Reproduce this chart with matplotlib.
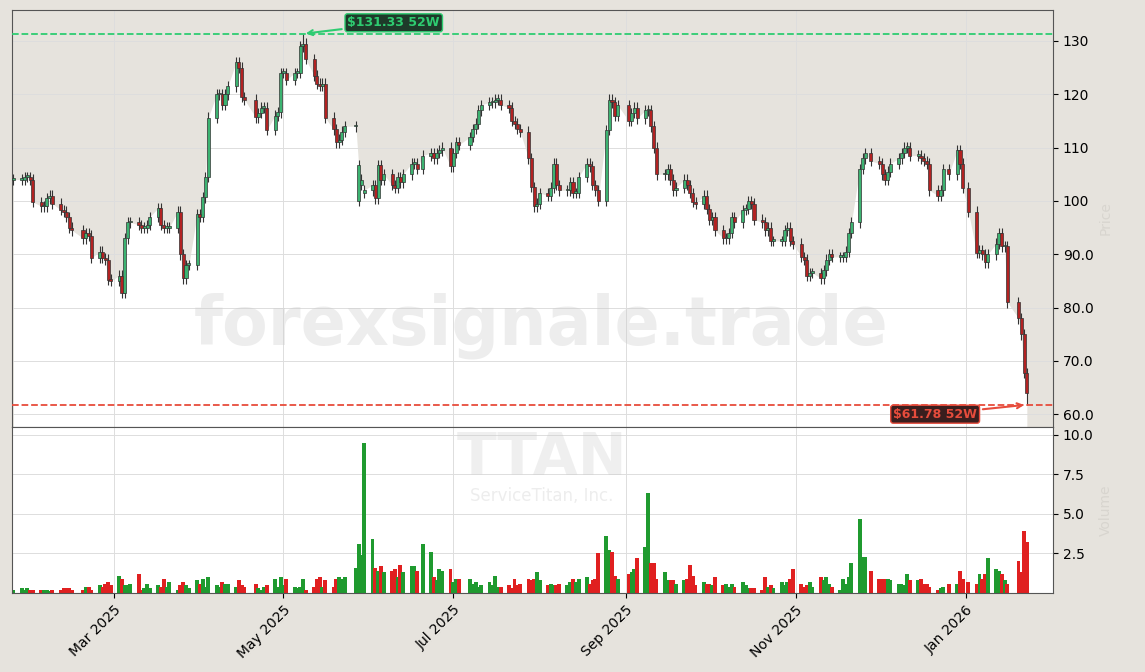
import matplotlib
matplotlib.use("Agg")
import matplotlib.pyplot as plt
import matplotlib.dates as mdates
import numpy as np
import pandas as pd

close_a = [104,104,104.5,104.5,104,99.8,99,99,100.5,101,99.5,98.3,98,97,95,94.5,93,94,93.5,89.3,90.5,89.3,89,85.2,85,86,82.7]
close_b = [93,96,96,95.5,95,95,95.5,97,98.7,95.5,95,95,95,98]
close_c = [90,85.5,88,88,97.5,97,100.7,104.5,115.6,120,120,118,120,121.5,126,125,119.5,119,115.7,116.5,117.5,117.5,113.3,116,116.6,124,124,122.7,124,124,129,129.5,126.6,123.5,122,121.6,122,115.6,113.4,111,111.5,113,114,114]
close_d = [106.7,104,102,103,100.5,106.7,104,105,103,102.5,104.5,103.5,105,107,107,106,108.5,109,108,109,109.5,110,106.5,109,111,110.5,112,113.5,114.5,117,118,118.5,118.5,119,119,118,117.5,115,114.5,113.5,113]
close_e = [108,102.6,99,99.5,101.5,101,102.5,107,103,102,102,103.5,101.5,101.5,104.5,107,106.5,103,102,100,113.3,119,118.5,116,118,115,116.5,117.5,115.5,117,117,114,110,105,105,106,104,102,102.5,104,103]
close_f = [101.5,99.8,99.5,101,98.5,96.5,97,94.5,93,93,94,97,96,98.3,98.5,100,99.5,96.5,96,94.5,95,92.5,92.5,92.5,94.5,95,92.5,92,89.5,89,86,86.5,86.5,85.5,87,89,90,89.5,89.5,89.5,90.5,94,96,106,108,109,107.5,107,105,104]
close_g = [105.5,107,108,109,110,110,108.5,108.5,108,107.5,107,102,101,102,106,105,109.5,107,102.5,98,90.2,90.7,90,88.5,90,92,94,91.5,91.5,81,78,75,67.7,64]

vol_a = [0.2,0.3,0.2,0.3,0.2,0.2,0.2,0.2,0.2,0.1,0.2,0.2,0.3,0.3,0.3,0.2,0.2,0.4,0.4,0.2,0.5,0.4,0.6,0.7,0.5,1.1,0.9]
vol_b = [0.5,0.5,0.6,1.2,0.2,0.3,0.6,0.3,0.5,0.4,0.9,0.4,0.7,0.2]
vol_c = [0.5,0.7,0.5,0.3,0.8,0.6,0.9,0.4,1.0,0.5,0.4,0.7,0.6,0.6,0.4,0.8,0.5,0.4,0.6,0.3,0.2,0.4,0.5,0.9,0.4,1.0,0.5,0.9,0.4,0.3,0.4,0.9,0.2,0.4,0.9,1.0,0.4,0.8,0.4,0.9,1.0,0.9,1.0,1.6]
vol_d = [3.1,2.4,9.5,3.4,1.6,1.4,1.7,1.3,1.4,1.5,1.0,1.8,1.3,1.7,1.7,1.4,3.1,2.6,1.0,0.8,1.5,1.4,1.5,0.7,0.9,0.9,0.9,0.6,0.7,0.4,0.5,0.7,0.5,1.1,0.4,0.4,0.5,0.3,0.9,0.5,0.6]
vol_e = [0.9,0.8,0.9,1.3,0.8,0.5,0.6,0.5,0.5,0.6,0.5,0.7,0.9,0.7,0.9,1.0,0.6,0.8,0.9,2.5,3.6,2.7,2.6,1.1,0.9,1.2,1.3,1.5,2.2,2.9,6.3,1.9,1.9,0.9,1.3,0.8,0.8,0.8,0.6,0.8,0.9]
vol_f = [1.8,1.1,0.5,0.7,0.6,0.6,0.5,1.0,0.5,0.6,0.4,0.6,0.4,0.7,0.5,0.3,0.3,0.3,0.2,1.0,0.4,0.5,0.3,0.7,0.5,0.7,0.9,1.5,0.6,0.4,0.5,0.7,0.4,1.0,0.8,1.0,0.6,0.4,0.2,0.9,0.6,1.0,1.9,4.7,2.3,2.3,1.4,0.9,0.9,0.9]
vol_g = [0.9,0.8,0.6,0.6,0.5,1.2,0.8,0.8,0.9,0.6,0.6,0.4,0.2,0.3,0.4,0.6,0.6,1.4,0.9,0.7,0.6,1.2,0.9,1.2,2.2,1.5,1.4,1.2,0.8,0.6,2.0,1.3,3.9,3.2]

market_holidays = ["2025-02-17", "2025-04-18", "2025-05-26", "2025-06-19", "2025-07-04",
                   "2025-09-01", "2025-11-27", "2025-12-25", "2026-01-01", "2026-01-19"]
gap_open_index = [85, 86, 87]
gap_open_value = [100.0, 103.0, 101.5]
high_52w = 131.33
low_52w = 61.78
ticker = "TTAN"
company = "ServiceTitan, Inc."

closes = np.array(close_a + close_b + close_c + close_d + close_e + close_f + close_g, float)
vols = np.array(vol_a + vol_b + vol_c + vol_d + vol_e + vol_f + vol_g, float)
n = min(len(closes), len(vols))
closes, vols = closes[:n], vols[:n]
alld = pd.bdate_range("2025-01-01", "2026-01-23")
alld = alld[~alld.isin(pd.to_datetime(market_holidays))]
dates = alld[-n:]
opens = np.concatenate([[closes[0]], closes[:-1]])
for gi, gv in zip(gap_open_index, gap_open_value):
    opens[gi] = gv
highs = np.maximum(opens, closes) + 1.0
lows = np.minimum(opens, closes) - 1.0
ihi = int(np.argmax(highs)); highs[ihi] = high_52w
lows[-1] = low_52w

BG = "#e6e3dd"
fig = plt.figure(figsize=(11.45, 6.72), dpi=100, facecolor=BG)
ax = fig.add_axes([12/1145, 1-427/672, (1053-12)/1145, (427-10)/672])
axv = fig.add_axes([12/1145, 1-593/672, (1053-12)/1145, (593-427)/672], sharex=ax)
ax.set_facecolor(BG)
axv.set_facecolor("white")

x = mdates.date2num(dates)
ax.set_ylim(57.6, 135.8)
ax.fill_between(x, 57.6, closes, color="white", zorder=0, linewidth=0)
up = closes >= opens
gcol, rcol = "#3cb371", "#b22222"
for i in range(n):
    c = gcol if up[i] else rcol
    ax.vlines(x[i], lows[i], highs[i], color="#333333", linewidth=0.8, zorder=2)
    b = min(opens[i], closes[i]); h = max(abs(closes[i]-opens[i]), 0.3)
    ax.bar(x[i], h, bottom=b, width=1.1, color=c, edgecolor="#333333", linewidth=0.5, zorder=3)
axv.bar(x, vols, width=1.4, color=np.where(up, "#1f9a2f", "#e02020"), zorder=2)

ax.axhline(high_52w, color="#2ecc71", ls="--", lw=1.3, zorder=4)
ax.axhline(low_52w, color="#e74c3c", ls="--", lw=1.3, zorder=4)
ax.annotate(f"${high_52w:.2f} 52W", xy=(x[ihi], high_52w), xytext=(x[ihi]+16, 133.4),
            color="#2ecc71", fontsize=9, fontweight="bold", va="center",
            bbox=dict(boxstyle="round,pad=0.2", fc="#1e3a2a", ec="#2ecc71"),
            arrowprops=dict(arrowstyle="->", color="#2ecc71", lw=1.5), zorder=6)
ax.annotate(f"${low_52w:.2f} 52W", xy=(x[-1], low_52w), xytext=(x[-1]-48, 60.0),
            color="#e74c3c", fontsize=9, fontweight="bold", va="center",
            bbox=dict(boxstyle="round,pad=0.2", fc="#3a1e1e", ec="#e74c3c"),
            arrowprops=dict(arrowstyle="->", color="#e74c3c", lw=1.5), zorder=6)

ax.set_xlim(x[0]-0.5, x[-1]+9.4)
for a in (ax, axv):
    a.yaxis.tick_right()
    a.grid(True, color="#dddddd", linewidth=0.7, zorder=0)
    a.set_axisbelow(True)
    for s in a.spines.values():
        s.set_color("#555555")
ax.set_yticks([60, 70, 80, 90, 100, 110, 120, 130])
ax.set_yticklabels(["60.0", "70.0", "80.0", "90.0", "100", "110", "120", "130"])
ax.tick_params(axis="x", labelbottom=False, length=0)
axv.set_ylim(0, 10.5)
axv.set_yticks([2.5, 5.0, 7.5, 10.0])
axv.set_yticklabels(["2.5", "5.0", "7.5", "10.0"])
axv.xaxis.set_major_locator(mdates.MonthLocator(bymonth=[1, 3, 5, 7, 9, 11]))
axv.xaxis.set_major_formatter(mdates.DateFormatter("%b %Y"))
plt.setp(axv.get_xticklabels(), rotation=45, ha="right", rotation_mode="anchor")
ax.tick_params(labelsize=10)
axv.tick_params(labelsize=10)
ax.yaxis.set_label_position("right")
axv.yaxis.set_label_position("right")
ax.set_ylabel("Price", color="#d8d5cf", fontsize=10)
axv.set_ylabel("Volume", color="#d8d5cf", fontsize=10)

fig.text(0.473, 0.515, "forexsignale.trade", fontsize=48, fontweight="bold", color="#cccccc", alpha=0.35, ha="center", va="center")
fig.text(0.473, 0.318, ticker, fontsize=42, fontweight="bold", color="#cccccc", alpha=0.3, ha="center", va="center")
fig.text(0.473, 0.262, company, fontsize=12, color="#cccccc", alpha=0.35, ha="center", va="center")

fig.savefig("out.png", dpi=100, facecolor=BG)
